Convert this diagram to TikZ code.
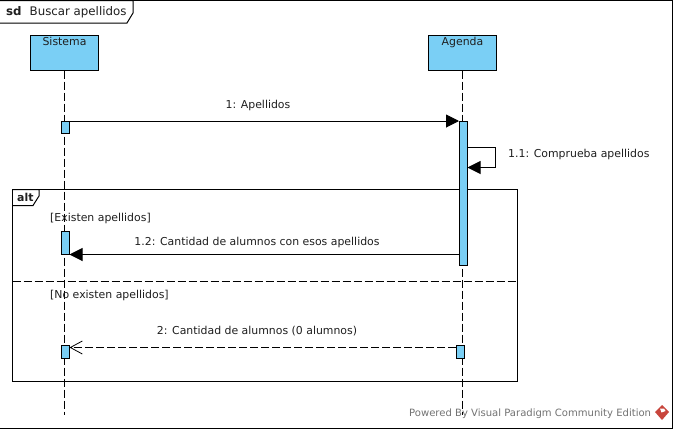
\documentclass[tikz,border=0pt]{standalone}
\usepackage{fontspec}
\setmainfont{DejaVu Sans}
\usetikzlibrary{arrows.meta}
\definecolor{vpblue}{HTML}{7ACFF5}
\definecolor{vpred}{HTML}{C8453C}
\tikzset{
  x=1pt,y=-1pt,
  every node/.style={font=\fontsize{10.9}{12}\selectfont,text=black!88,inner sep=0pt},
  lifebox/.style={draw=black,fill=vpblue,line width=1pt,minimum width=68pt,minimum height=34.5pt,anchor=north west},
  actbox/.style={draw=black,fill=vpblue,line width=1pt,minimum width=7.5pt,anchor=north west},
  lifeline/.style={line width=1pt,dash pattern=on 8pt off 3pt},
  frameline/.style={line width=1pt},
  msg/.style={line width=1pt,-{Triangle[length=13pt,width=13pt]}},
  ret/.style={line width=1pt,dash pattern=on 8pt off 3pt,-{Straight Barb[length=12pt,width=13pt,line width=.8pt]}},
  lbl/.style={anchor=base},
}
\begin{document}
\begin{tikzpicture}
\useasboundingbox (0,0) rectangle (674,429);
\fill[white] (0,0) rectangle (674,429);
% outer frame
\coordinate (fTL) at (-1,0.5);
\coordinate (fBR) at (672.5,428);
\draw[frameline] (fTL) rectangle (fBR);
\draw[frameline,fill=white] (-1,0.5) -- (133,0.5) -- (133,13) -- (127,23) -- (-1,23);
\node[anchor=base west,font=\fontsize{11.8}{13}\selectfont\bfseries] (sdl) at (6,15.5) {sd};
\node[anchor=base west,font=\fontsize{11.8}{13}\selectfont] (sdt) at (29.5,15.5) {Buscar apellidos};
% lifelines
\node[lifebox,label={[anchor=north,yshift=-2.5pt]north:Sistema}] (sis) at (30,35) {};
\node[lifebox,label={[anchor=north,yshift=-2.5pt]north:Agenda}] (age) at (428,35) {};
\coordinate (sisEnd) at (64,415);
\coordinate (ageEnd) at (462.5,415);
\draw[lifeline] (sis.south -| sisEnd) -- (sisEnd);
\draw[lifeline] (age.south -| ageEnd) -- (ageEnd);
% alt frame
\draw[frameline] (12.5,189.5) rectangle (517.5,381.5);
\draw[frameline] (12.5,189.5) -- (39,189.5) -- (39,196) -- (33,205.5) -- (12.5,205.5);
\node[anchor=base west,font=\fontsize{10.9}{12}\selectfont\bfseries] (altl) at (17,201) {alt};
\draw[frameline,dash pattern=on 8pt off 3pt] (12.5,281.5) -- (517.5,281.5);
\node[anchor=base west] (g1) at (50,221.2) {[Existen apellidos]};
\node[anchor=base west] (g2) at (50,298.7) {[No existen apellidos]};
% activations
\node[actbox,minimum height=12pt] (a1) at (61,121) {};
\node[actbox,minimum height=144pt] (a2) at (459,121) {};
\node[actbox,minimum height=22.5pt] (a3) at (61,231) {};
\node[actbox,minimum height=12.5pt] (a4) at (61,345) {};
\node[actbox,minimum height=12.5pt] (a5) at (456,345) {};
% messages
\draw[msg] (a1.north east) -- (a2.north west);
\node[lbl] (m1) at (258,108.2) {1: Apellidos};
\coordinate (selfA) at (495.5,147.5);
\coordinate (selfB) at (495.5,167.5);
\draw[msg] (a2.east |- selfA) -- (selfA) -- (selfB) -- (a2.east |- selfB);
\node[anchor=base west] (m2) at (508,157.2) {1.1: Comprueba apellidos};
\draw[msg] (a2.west |- a3.south) -- (a3.south east);
\node[lbl] (m3) at (257,245.2) {1.2: Cantidad de alumnos con esos apellidos};
\coordinate (r5) at (a5.west |- 0,347.5);
\coordinate (r4) at (a4.east |- 0,347.5);
\draw[ret] (r5) -- (r4);
\node[lbl] (m4) at (257,334.2) {2: Cantidad de alumnos (0 alumnos)};
% footer
\node[anchor=base west,text=black!55,font=\fontsize{10.05}{12}\selectfont] (pw) at (409,416) {Powered By Visual Paradigm Community Edition};
\fill[vpred] (662,405) -- (669,412) -- (662,420) -- (655,412) -- cycle;
\fill[white] (660,408.5) -- (664,408.5) -- (665.5,411) -- (661.5,412.5) -- cycle;
\end{tikzpicture}
\end{document}
